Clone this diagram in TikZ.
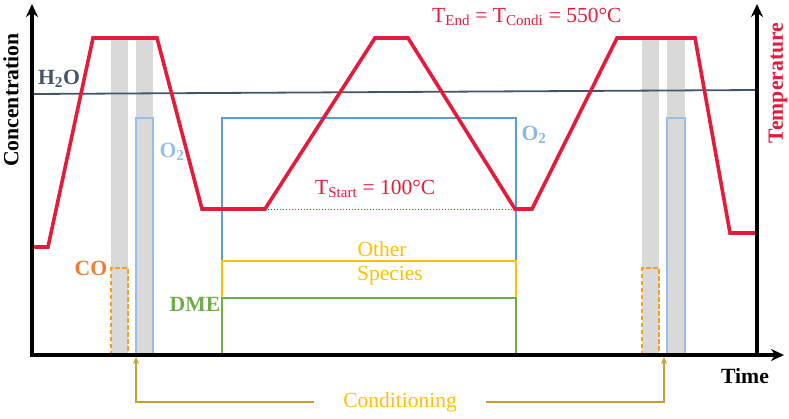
\documentclass[tikz,border=0pt]{standalone}
\usepackage{fontspec}
\setmainfont{Liberation Serif}
\usetikzlibrary{arrows.meta}

\definecolor{tempred}{RGB}{226,28,58}
\definecolor{waterblue}{RGB}{68,84,106}
\definecolor{oxlight}{RGB}{150,192,232}
\definecolor{oxblue}{RGB}{91,155,213}
\definecolor{otheryellow}{RGB}{255,192,0}
\definecolor{dmegreen}{RGB}{112,173,71}
\definecolor{cotext}{RGB}{237,125,49}
\definecolor{codash}{RGB}{245,160,30}
\definecolor{bandgray}{RGB}{217,217,217}
\definecolor{condgold}{RGB}{200,160,48}

\begin{document}
\begin{tikzpicture}[x=1pt, y=-1pt, >=Stealth,
    font=\fontsize{21.5}{24}\selectfont,
    axis/.style={line width=3.6pt, -{Stealth[length=13pt,width=12pt]}},
    label/.style={inner sep=0pt, font=\fontsize{21.7}{24}\selectfont\bfseries},
    condline/.style={condgold, line width=1.6pt, -{Stealth[length=7pt,width=6pt]}}]
  \useasboundingbox (0,0) rectangle (789,418);
  % Conditioning bands
  \fill[bandgray] (111,38) rectangle (128,355);
  \fill[bandgray] (136,38) rectangle (153,355);
  \fill[bandgray] (642,38) rectangle (659,355);
  \fill[bandgray] (667,38) rectangle (685,355);
  % CO pulses
  \draw[codash, line width=1.5pt, dash pattern=on 4.5pt off 2.5pt]
    (111,355) |- (128,268) -- (128,355);
  \draw[codash, line width=1.5pt, dash pattern=on 4.5pt off 2.5pt]
    (642,355) |- (659,268) -- (659,355);
  % O2 pulses
  \draw[oxlight, line width=1.5pt] (136,355) |- (153,118) -- (153,355);
  \draw[oxlight, line width=1.5pt] (667,355) |- (685,118) -- (685,355);
  % O2 during the test
  \draw[oxblue, line width=1.5pt] (222,355) |- (516,118) -- (516,355);
  % Other species
  \draw[otheryellow, line width=2pt] (222,298) |- (516,261) -- (516,298);
  % DME
  \draw[dmegreen, line width=2pt] (222,355) |- (516,298) -- (516,355);
  % Water
  \draw[waterblue, line width=1.8pt] (32,94) -- (757,90);
  % Temperature programme
  \draw[tempred, line width=3.6pt, line join=miter]
    (32,247) -- (48,247) -- (93,38) -- (157,38) -- (202,209) -- (265,209)
    -- (375,38) -- (408,38) -- (515,209) -- (532,209) -- (617,38)
    -- (695,38) -- (730,233) -- (757,233);
  \draw[tempred, line width=1pt, dotted] (265,209) -- (515,209);
  % Axes
  \coordinate (origin) at (32,355);
  \coordinate (xend) at (784,355);
  \coordinate (cend) at (32,4);
  \coordinate (tbase) at (757,355);
  \coordinate (tend) at (757,4);
  \draw[axis] (30,355) -- (xend);
  \draw[axis] (origin) -- (cend);
  \draw[axis] (tbase) -- (tend);
  % Axis labels
  \node[label, rotate=90] (conc) at (11,100) {Concentration};
  \node[label, rotate=90, text=tempred] (temp) at (778,83) {Temperature};
  \node[label] (time) at (745,376) {Time};
  % Species labels
  \node[label, text=waterblue] (h2o) at (59,79) {H\textsubscript{2}O};
  \node[label, text=oxlight] (o2a) at (172,152) {O\textsubscript{2}};
  \node[label, text=oxblue!70] (o2b) at (534,135) {O\textsubscript{2}};
  \node[label, text=cotext] (co) at (91,268) {CO};
  \node[label, text=dmegreen] (dme) at (195,304) {DME};
  \node[inner sep=0pt, text=otheryellow] (other) at (382,249) {Other};
  \node[inner sep=0pt, text=otheryellow] (species) at (390,276) {Species};
  % Temperature labels
  \node[inner sep=0pt, text=tempred, anchor=west] (tstart) at (315,189)
    {T\textsubscript{Start} = 100°C};
  \node[inner sep=0pt, text=tempred, anchor=west] (tcond) at (432,17)
    {T\textsubscript{End} = T\textsubscript{Condi} = 550°C};
  % Conditioning
  \coordinate (condL) at (136,357);
  \coordinate (condR) at (664,357);
  \node[inner ysep=0pt, inner xsep=29pt, text=otheryellow] (cond) at (400,402)
    {Conditioning};
  \draw[condline] (cond.west) -| (condL);
  \draw[condline] (cond.east) -| (condR);
\end{tikzpicture}
\end{document}
